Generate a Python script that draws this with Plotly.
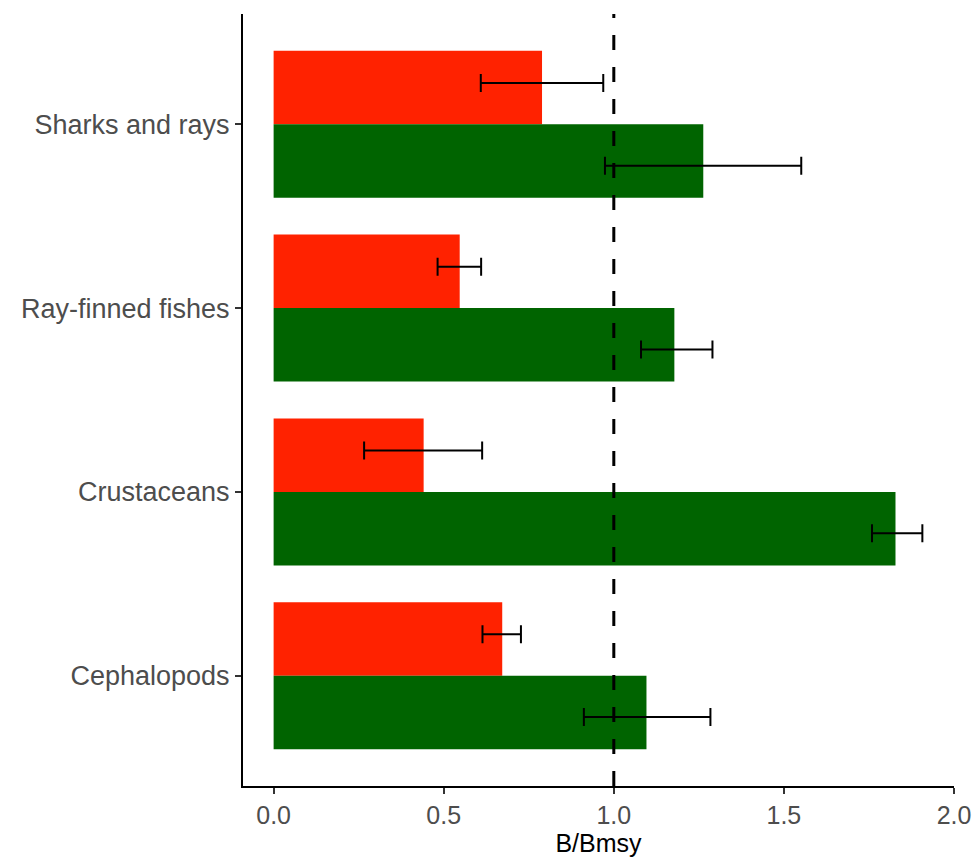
import plotly.graph_objects as go

categories = ["Cephalopods", "Crustaceans", "Ray-finned fishes", "Sharks and rays"]
red_values = [0.672, 0.441, 0.547, 0.789]
red_err_low = [0.614, 0.266, 0.482, 0.609]
red_err_high = [0.727, 0.613, 0.610, 0.969]
green_values = [1.096, 1.828, 1.178, 1.263]
green_err_low = [0.912, 1.759, 1.080, 0.974]
green_err_high = [1.284, 1.907, 1.290, 1.551]
x_ticks = [0.0, 0.5, 1.0, 1.5, 2.0]
x_tick_labels = ["0.0", "0.5", "1.0", "1.5", "2.0"]
reference_value = 1.0

RED = "#FF2200"
GREEN = "#006400"
idx = list(range(len(categories)))
bar_shift = 0.2
err_shift = 0.225

fig = go.Figure()
fig.add_trace(go.Bar(
    x=red_values, y=[i + bar_shift for i in idx], orientation="h",
    width=0.4, marker=dict(color=RED, line=dict(width=0)), showlegend=False,
))
fig.add_trace(go.Bar(
    x=green_values, y=[i - bar_shift for i in idx], orientation="h",
    width=0.4, marker=dict(color=GREEN, line=dict(width=0)), showlegend=False,
))
fig.add_shape(type="line", xref="x", yref="paper", x0=reference_value, x1=reference_value,
              y0=0, y1=1, line=dict(color="black", width=3, dash="15px,17px"), layer="above")
fig.add_trace(go.Scatter(
    x=red_values, y=[i + err_shift for i in idx], mode="markers",
    marker=dict(size=0.1, color="rgba(0,0,0,0)"), showlegend=False,
    error_x=dict(type="data", symmetric=False,
                 array=[h - v for h, v in zip(red_err_high, red_values)],
                 arrayminus=[v - l for l, v in zip(red_err_low, red_values)],
                 color="black", thickness=2, width=9),
))
fig.add_trace(go.Scatter(
    x=green_values, y=[i - err_shift for i in idx], mode="markers",
    marker=dict(size=0.1, color="rgba(0,0,0,0)"), showlegend=False,
    error_x=dict(type="data", symmetric=False,
                 array=[h - v for h, v in zip(green_err_high, green_values)],
                 arrayminus=[v - l for l, v in zip(green_err_low, green_values)],
                 color="black", thickness=2, width=9),
))

fig.update_layout(
    width=972, height=858,
    margin=dict(l=243, r=18, t=14, b=72),
    paper_bgcolor="white", plot_bgcolor="white",
    barmode="overlay",
    font=dict(family="Liberation Sans, Arial, sans-serif", size=26, color="#4D4D4D"),
)
fig.update_xaxes(
    range=[-0.09, 2.0], tickvals=x_ticks, ticktext=x_tick_labels, automargin=False,
    showgrid=False, zeroline=False, showline=True, linecolor="black", linewidth=2,
    ticks="outside", ticklen=6, tickwidth=2, tickcolor="#333333",
    tickfont=dict(size=25, color="#4D4D4D"),
    title=dict(text="B/Bmsy", font=dict(size=25, color="black"), standoff=6),
)
fig.update_yaxes(
    range=[-0.6, 3.6], tickvals=idx, ticktext=categories, automargin=False,
    showgrid=False, zeroline=False, showline=True, linecolor="black", linewidth=2,
    ticks="outside", ticklen=6, tickwidth=2, tickcolor="#333333",
    tickfont=dict(size=27, color="#4D4D4D"),
)

fig.write_html("out.html")
